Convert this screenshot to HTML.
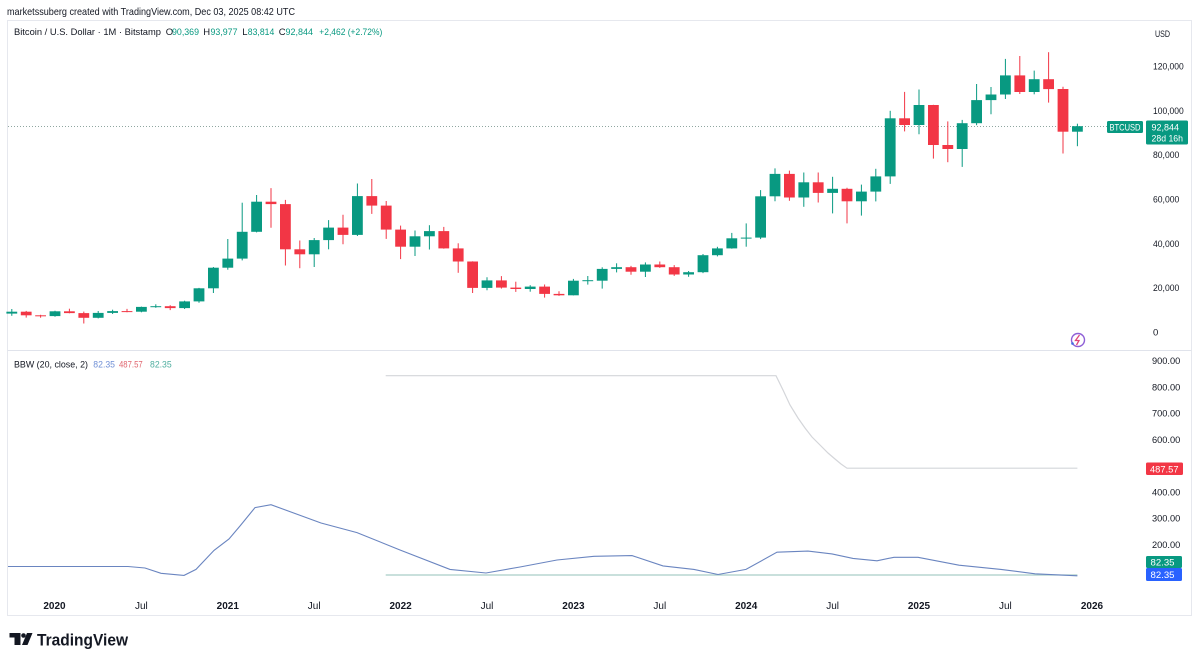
<!DOCTYPE html>
<html><head><meta charset="utf-8"><style>
html,body{margin:0;padding:0;background:#fff}
svg{display:block;font-family:"Liberation Sans",sans-serif}
.G line{stroke:#089981;stroke-width:1}.G rect{fill:#089981}
.R line{stroke:#f23645;stroke-width:1}.R rect{fill:#f23645}
.ax{fill:#131722;font-size:9.5px}
.tx{fill:#131722;font-size:10px;text-anchor:middle}
.yr{font-weight:bold}
</style></head><body>
<svg width="1200" height="662" viewBox="0 0 1200 662" xmlns="http://www.w3.org/2000/svg">
<rect width="1200" height="662" fill="#fff"/>
<!-- frame -->
<rect x="7.5" y="20.5" width="1184" height="595" fill="none" stroke="#e6e8ee"/>
<line x1="7.5" y1="350.5" x2="1191.5" y2="350.5" stroke="#e0e3eb"/>

<!-- header -->
<text x="7" y="15" font-size="10.5" fill="#131722" textLength="288" lengthAdjust="spacingAndGlyphs">marketssuberg created with TradingView.com, Dec 03, 2025 08:42 UTC</text>
<g font-size="9.5">
<text x="14" y="35" fill="#131722" textLength="147" lengthAdjust="spacingAndGlyphs">Bitcoin / U.S. Dollar · 1M · Bitstamp</text>
<text x="165.7" y="35" fill="#131722">O</text><text x="172" y="35" fill="#089981" textLength="27" lengthAdjust="spacingAndGlyphs">90,369</text>
<text x="203.3" y="35" fill="#131722">H</text><text x="210.5" y="35" fill="#089981" textLength="27" lengthAdjust="spacingAndGlyphs">93,977</text>
<text x="242.3" y="35" fill="#131722">L</text><text x="247.8" y="35" fill="#089981" textLength="26.5" lengthAdjust="spacingAndGlyphs">83,814</text>
<text x="278.7" y="35" fill="#131722">C</text><text x="285.5" y="35" fill="#089981" textLength="27.5" lengthAdjust="spacingAndGlyphs">92,844</text>
<text x="319.3" y="35" fill="#089981" textLength="63" lengthAdjust="spacingAndGlyphs">+2,462 (+2.72%)</text>
</g>

<!-- price line -->
<line x1="8" y1="126.5" x2="1107" y2="126.5" stroke="#8fa6a0" stroke-width="1" stroke-dasharray="1,2"/>

<!-- green candles -->
<g class="G">
<line x1="11.8" y1="309" x2="11.8" y2="315.8"/><rect x="6.4" y="311.7" width="10.8" height="1.9"/>
<line x1="55" y1="310.8" x2="55" y2="316.8"/><rect x="49.6" y="311.3" width="10.8" height="4.8"/>
<line x1="98.2" y1="311" x2="98.2" y2="318.4"/><rect x="92.8" y="312.9" width="10.8" height="4.9"/>
<line x1="112.6" y1="309.7" x2="112.6" y2="314"/><rect x="107.2" y="311.1" width="10.8" height="1.8"/>
<line x1="141.4" y1="306.6" x2="141.4" y2="312.3"/><rect x="136" y="306.9" width="10.8" height="4.8"/>
<line x1="155.8" y1="304.3" x2="155.8" y2="307.8"/><rect x="150.4" y="306.2" width="10.8" height="1"/>
<line x1="184.6" y1="300.7" x2="184.6" y2="309"/><rect x="179.2" y="301.4" width="10.8" height="6.7"/>
<line x1="199" y1="287.9" x2="199" y2="302.7"/><rect x="193.6" y="288.3" width="10.8" height="13.1"/>
<line x1="213.4" y1="267" x2="213.4" y2="293"/><rect x="208" y="267.7" width="10.8" height="20.6"/>
<line x1="227.8" y1="239" x2="227.8" y2="269.7"/><rect x="222.4" y="258.6" width="10.8" height="9.1"/>
<line x1="242.2" y1="202.7" x2="242.2" y2="260.4"/><rect x="236.8" y="231.8" width="10.8" height="26.8"/>
<line x1="256.6" y1="195" x2="256.6" y2="232.4"/><rect x="251.2" y="201.7" width="10.8" height="30.1"/>
<line x1="314.2" y1="238" x2="314.2" y2="267"/><rect x="308.8" y="240.1" width="10.8" height="14.2"/>
<line x1="328.6" y1="220.1" x2="328.6" y2="249.3"/><rect x="323.2" y="227.6" width="10.8" height="12.5"/>
<line x1="357.4" y1="183.5" x2="357.4" y2="236"/><rect x="352" y="196.1" width="10.8" height="38.8"/>
<line x1="415" y1="230.5" x2="415" y2="256"/><rect x="409.6" y="236.3" width="10.8" height="10.4"/>
<line x1="429.4" y1="225.2" x2="429.4" y2="249.5"/><rect x="424" y="231.1" width="10.8" height="5.2"/>
<line x1="487" y1="277.2" x2="487" y2="290.3"/><rect x="481.6" y="280.4" width="10.8" height="7.5"/>
<line x1="530.2" y1="285.2" x2="530.2" y2="291.7"/><rect x="524.8" y="286.6" width="10.8" height="2.4"/>
<line x1="573.4" y1="278.9" x2="573.4" y2="295.4"/><rect x="568" y="280.7" width="10.8" height="14.6"/>
<line x1="587.8" y1="276" x2="587.8" y2="284.6"/><rect x="582.4" y="280.2" width="10.8" height="1"/>
<line x1="602.2" y1="267.3" x2="602.2" y2="288.6"/><rect x="596.8" y="268.9" width="10.8" height="11.8"/>
<line x1="616.6" y1="263.3" x2="616.6" y2="272.4"/><rect x="611.2" y="267.2" width="10.8" height="1.7"/>
<line x1="645.4" y1="262.4" x2="645.4" y2="277"/><rect x="640" y="264.5" width="10.8" height="7.2"/>
<line x1="688.6" y1="271" x2="688.6" y2="276.8"/><rect x="683.2" y="272.2" width="10.8" height="2.3"/>
<line x1="703" y1="254" x2="703" y2="273.1"/><rect x="697.6" y="255.2" width="10.8" height="17"/>
<line x1="717.4" y1="246.8" x2="717.4" y2="256.4"/><rect x="712" y="248.4" width="10.8" height="6.8"/>
<line x1="731.8" y1="232.9" x2="731.8" y2="248.7"/><rect x="726.4" y="238.3" width="10.8" height="10.1"/>
<line x1="746.2" y1="223.4" x2="746.2" y2="246.7"/><rect x="740.8" y="237.6" width="10.8" height="1"/>
<line x1="760.6" y1="190.1" x2="760.6" y2="239.1"/><rect x="755.2" y="196.3" width="10.8" height="41.3"/>
<line x1="775" y1="168.4" x2="775" y2="201.2"/><rect x="769.6" y="173.9" width="10.8" height="22.4"/>
<line x1="803.8" y1="172.5" x2="803.8" y2="206.8"/><rect x="798.4" y="182.3" width="10.8" height="15.2"/>
<line x1="832.6" y1="176.8" x2="832.6" y2="213.4"/><rect x="827.2" y="188.8" width="10.8" height="4.1"/>
<line x1="861.4" y1="184.6" x2="861.4" y2="215.6"/><rect x="856" y="191.6" width="10.8" height="9.7"/>
<line x1="875.8" y1="168.8" x2="875.8" y2="201.4"/><rect x="870.4" y="176.4" width="10.8" height="15.2"/>
<line x1="890.2" y1="110.8" x2="890.2" y2="183.9"/><rect x="884.8" y="118.3" width="10.8" height="58.1"/>
<line x1="919" y1="89.5" x2="919" y2="134.3"/><rect x="913.6" y="105" width="10.8" height="20"/>
<line x1="962.2" y1="119.9" x2="962.2" y2="166.9"/><rect x="956.8" y="123.2" width="10.8" height="25.8"/>
<line x1="976.6" y1="84" x2="976.6" y2="125.2"/><rect x="971.2" y="100.1" width="10.8" height="23.1"/>
<line x1="991" y1="87" x2="991" y2="114.3"/><rect x="985.6" y="94.5" width="10.8" height="5.6"/>
<line x1="1005.4" y1="58.9" x2="1005.4" y2="99"/><rect x="1000" y="75.4" width="10.8" height="19.1"/>
<line x1="1034.2" y1="70.6" x2="1034.2" y2="94.3"/><rect x="1028.8" y="79.2" width="10.8" height="12.8"/>
<line x1="1077.4" y1="123.7" x2="1077.4" y2="146.2"/><rect x="1072" y="126.2" width="10.8" height="5.5"/>
</g>
<!-- red candles -->
<g class="R">
<line x1="26.2" y1="310.9" x2="26.2" y2="317.6"/><rect x="20.8" y="311.7" width="10.8" height="3.6"/>
<line x1="40.6" y1="314.8" x2="40.6" y2="317.7"/><rect x="35.2" y="315.3" width="10.8" height="1"/>
<line x1="69.4" y1="308.7" x2="69.4" y2="313.3"/><rect x="64" y="311.3" width="10.8" height="1.8"/>
<line x1="83.8" y1="311.6" x2="83.8" y2="323.5"/><rect x="78.4" y="313.1" width="10.8" height="4.7"/>
<line x1="127" y1="308.9" x2="127" y2="312.2"/><rect x="121.6" y="311.1" width="10.8" height="1"/>
<line x1="170.2" y1="305.2" x2="170.2" y2="310.1"/><rect x="164.8" y="306.2" width="10.8" height="1.9"/>
<line x1="271" y1="188.1" x2="271" y2="227.8"/><rect x="265.6" y="201.7" width="10.8" height="2.4"/>
<line x1="285.4" y1="199.9" x2="285.4" y2="265.5"/><rect x="280" y="204.1" width="10.8" height="45.2"/>
<line x1="299.8" y1="240.5" x2="299.8" y2="268.2"/><rect x="294.4" y="249.3" width="10.8" height="5"/>
<line x1="343" y1="214.7" x2="343" y2="244.2"/><rect x="337.6" y="227.6" width="10.8" height="7.3"/>
<line x1="371.8" y1="179" x2="371.8" y2="213.9"/><rect x="366.4" y="196.1" width="10.8" height="9.5"/>
<line x1="386.2" y1="201" x2="386.2" y2="238.9"/><rect x="380.8" y="205.6" width="10.8" height="24"/>
<line x1="400.6" y1="225.6" x2="400.6" y2="259.1"/><rect x="395.2" y="229.6" width="10.8" height="17.1"/>
<line x1="443.8" y1="226.9" x2="443.8" y2="248.7"/><rect x="438.4" y="231.1" width="10.8" height="17.3"/>
<line x1="458.2" y1="243.3" x2="458.2" y2="272.8"/><rect x="452.8" y="248.4" width="10.8" height="13.1"/>
<line x1="472.6" y1="261.3" x2="472.6" y2="293"/><rect x="467.2" y="261.5" width="10.8" height="26.4"/>
<line x1="501.4" y1="276.1" x2="501.4" y2="288.6"/><rect x="496" y="280.4" width="10.8" height="7.2"/>
<line x1="515.8" y1="281.7" x2="515.8" y2="291.9"/><rect x="510.4" y="287.6" width="10.8" height="1.4"/>
<line x1="544.6" y1="284.5" x2="544.6" y2="297.6"/><rect x="539.2" y="286.6" width="10.8" height="7.3"/>
<line x1="559" y1="291.2" x2="559" y2="295.9"/><rect x="553.6" y="293.9" width="10.8" height="1.4"/>
<line x1="631" y1="265.9" x2="631" y2="274.8"/><rect x="625.6" y="267.2" width="10.8" height="4.5"/>
<line x1="659.8" y1="261.5" x2="659.8" y2="267.9"/><rect x="654.4" y="264.5" width="10.8" height="2.7"/>
<line x1="674.2" y1="265.1" x2="674.2" y2="275.9"/><rect x="668.8" y="267.2" width="10.8" height="7.3"/>
<line x1="789.4" y1="170.6" x2="789.4" y2="200.8"/><rect x="784" y="173.9" width="10.8" height="23.6"/>
<line x1="818.2" y1="172.5" x2="818.2" y2="202.5"/><rect x="812.8" y="182.3" width="10.8" height="10.6"/>
<line x1="847" y1="187.7" x2="847" y2="223.4"/><rect x="841.6" y="188.8" width="10.8" height="12.5"/>
<line x1="904.6" y1="91.9" x2="904.6" y2="131.4"/><rect x="899.2" y="118.3" width="10.8" height="6.7"/>
<line x1="933.4" y1="104.8" x2="933.4" y2="158.6"/><rect x="928" y="105" width="10.8" height="40"/>
<line x1="947.8" y1="121.4" x2="947.8" y2="162.2"/><rect x="942.4" y="145" width="10.8" height="4"/>
<line x1="1019.8" y1="56" x2="1019.8" y2="94"/><rect x="1014.4" y="75.4" width="10.8" height="16.6"/>
<line x1="1048.6" y1="52.2" x2="1048.6" y2="102.6"/><rect x="1043.2" y="79.2" width="10.8" height="9.9"/>
<line x1="1063" y1="86.8" x2="1063" y2="153.5"/><rect x="1057.6" y="89" width="10.8" height="42.7"/>
</g>

<!-- price axis labels -->
<text class="ax" x="1155" y="37" textLength="15" lengthAdjust="spacingAndGlyphs">USD</text>
<text class="ax" x="1153" y="69.5" textLength="30.7" lengthAdjust="spacingAndGlyphs">120,000</text>
<text class="ax" x="1153" y="113.8" textLength="30.7" lengthAdjust="spacingAndGlyphs">100,000</text>
<text class="ax" x="1153" y="158.2" textLength="26.3" lengthAdjust="spacingAndGlyphs">80,000</text>
<text class="ax" x="1153" y="202.5" textLength="26.3" lengthAdjust="spacingAndGlyphs">60,000</text>
<text class="ax" x="1153" y="246.8" textLength="26.3" lengthAdjust="spacingAndGlyphs">40,000</text>
<text class="ax" x="1153" y="291.2" textLength="26.3" lengthAdjust="spacingAndGlyphs">20,000</text>
<text class="ax" x="1153" y="335.5">0</text>

<!-- price labels -->
<rect x="1107" y="121" width="36" height="12" rx="1.5" fill="#089981"/>
<text x="1109.5" y="130.5" font-size="9" fill="#fff" textLength="31" lengthAdjust="spacingAndGlyphs">BTCUSD</text>
<rect x="1146" y="120.5" width="42" height="24" rx="1.5" fill="#089981"/>
<text x="1151.5" y="130.5" font-size="9.5" fill="#fff" textLength="27.5" lengthAdjust="spacingAndGlyphs">92,844</text>
<text x="1151.5" y="141.5" font-size="9.5" fill="#fff" textLength="31.5" lengthAdjust="spacingAndGlyphs">28d 16h</text>

<!-- icon -->
<circle cx="1078" cy="340" r="6.5" fill="none" stroke="#8e5fd6" stroke-width="1.4"/>
<path d="M1079.5,335 L1075.5,340.5 L1079,340.5 L1076.5,345" fill="none" stroke="#e0457b" stroke-width="1.3"/>
<circle cx="1072.5" cy="343.5" r="1.3" fill="#3d6be0"/>

<!-- BBW legend -->
<text x="14" y="367.5" font-size="9.5" fill="#131722" textLength="74" lengthAdjust="spacingAndGlyphs">BBW (20, close, 2)</text>
<text x="93.3" y="367.5" font-size="9.5" fill="#6f8fd6" textLength="21.7" lengthAdjust="spacingAndGlyphs">82.35</text>
<text x="119" y="367.5" font-size="9.5" fill="#e0666f" textLength="23.7" lengthAdjust="spacingAndGlyphs">487.57</text>
<text x="150" y="367.5" font-size="9.5" fill="#4fae9f" textLength="21.7" lengthAdjust="spacingAndGlyphs">82.35</text>

<!-- BBW lines -->
<path d="M385.7,375.7 L776,375.7 L783,390 L790,405 L798,418 L805,428 L812,437 L820,445 L828,453 L835,459 L841,464 L847,468.2 L1077.4,468.2" fill="none" stroke="#d4d6da" stroke-width="1.2"/>
<line x1="385.7" y1="575" x2="1077.4" y2="575" stroke="#a9cec7" stroke-width="1.2"/>
<polyline fill="none" stroke="#6a85c0" stroke-width="1.1" points="8,566.5 60,566.5 128,566.5 145,568 161,573.3 184,575.4 196,569.4 214,550.4 229,539 240,526 255,507.6 271,504.7 321,523 357,532.6 400,550 450,569.4 486,573 520,567 557,560 594,556.3 632,555.6 663,565.9 694,569.4 718,574.5 746,569.4 777,552.2 808,551.1 832,553.9 853,558.4 877,560.8 894,557.3 918,557.3 959,565.2 1001,569.4 1035,573.8 1077.4,575.8"/>

<!-- lower axis labels -->
<text class="ax" x="1152" y="364.2" textLength="28.3" lengthAdjust="spacingAndGlyphs">900.00</text>
<text class="ax" x="1152" y="390.4" textLength="28.3" lengthAdjust="spacingAndGlyphs">800.00</text>
<text class="ax" x="1152" y="416.7" textLength="28.3" lengthAdjust="spacingAndGlyphs">700.00</text>
<text class="ax" x="1152" y="442.9" textLength="28.3" lengthAdjust="spacingAndGlyphs">600.00</text>
<text class="ax" x="1152" y="469.1" textLength="28.3" lengthAdjust="spacingAndGlyphs">500.00</text>
<text class="ax" x="1152" y="495.4" textLength="28.3" lengthAdjust="spacingAndGlyphs">400.00</text>
<text class="ax" x="1152" y="521.6" textLength="28.3" lengthAdjust="spacingAndGlyphs">300.00</text>
<text class="ax" x="1152" y="547.8" textLength="28.3" lengthAdjust="spacingAndGlyphs">200.00</text>

<rect x="1146" y="462.5" width="37" height="12.5" rx="1.5" fill="#f23645"/>
<text x="1150" y="472.3" font-size="9.5" fill="#fff" textLength="28.5" lengthAdjust="spacingAndGlyphs">487.57</text>
<rect x="1146" y="556" width="36" height="12" rx="1.5" fill="#089981"/>
<text x="1150.5" y="565.5" font-size="9.5" fill="#fff" textLength="24" lengthAdjust="spacingAndGlyphs">82.35</text>
<rect x="1146" y="568" width="36" height="13" rx="1.5" fill="#2962ff"/>
<text x="1150.5" y="578" font-size="9.5" fill="#fff" textLength="24" lengthAdjust="spacingAndGlyphs">82.35</text>

<!-- time axis -->
<text class="tx yr" x="54.5" y="609">2020</text>
<text class="tx" x="141.4" y="609">Jul</text>
<text class="tx yr" x="227.8" y="609">2021</text>
<text class="tx" x="314.2" y="609">Jul</text>
<text class="tx yr" x="400.6" y="609">2022</text>
<text class="tx" x="487" y="609">Jul</text>
<text class="tx yr" x="573.4" y="609">2023</text>
<text class="tx" x="659.8" y="609">Jul</text>
<text class="tx yr" x="746.2" y="609">2024</text>
<text class="tx" x="832.6" y="609">Jul</text>
<text class="tx yr" x="919" y="609">2025</text>
<text class="tx" x="1005.4" y="609">Jul</text>
<text class="tx yr" x="1092" y="609">2026</text>

<!-- TradingView logo -->
<g fill="#131722">
<rect x="9.5" y="633" width="11" height="4.5"/>
<rect x="14.5" y="633" width="6" height="12"/>
<circle cx="23.5" cy="635.5" r="2.3"/>
<polygon points="27,633 32.5,633 27.5,645 22,645"/>
<text x="37" y="645.5" font-size="17" font-weight="bold" textLength="91" lengthAdjust="spacingAndGlyphs">TradingView</text>
</g>
</svg>
</body></html>
